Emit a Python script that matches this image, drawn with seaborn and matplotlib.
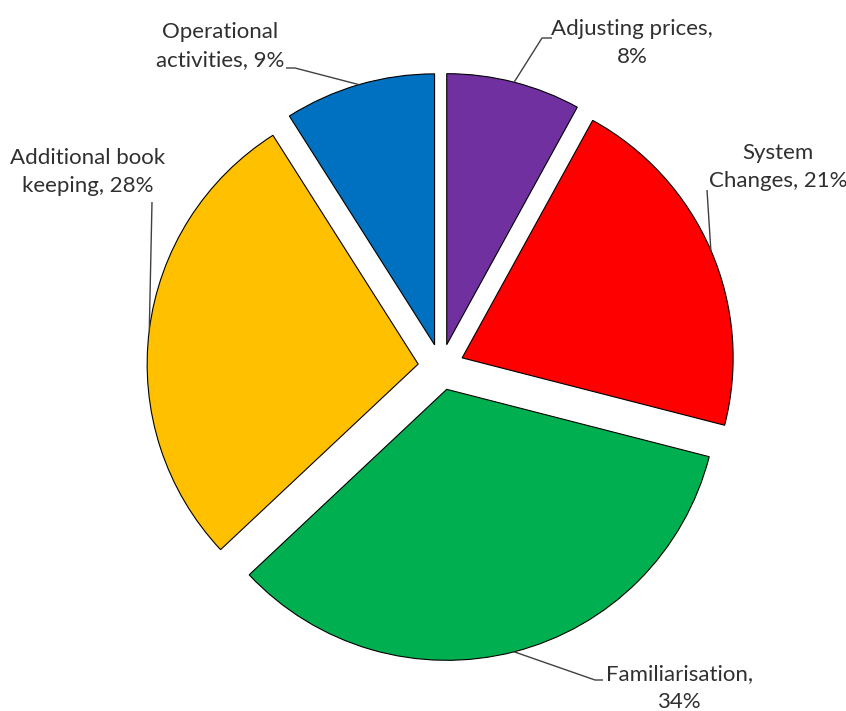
import matplotlib
matplotlib.use("Agg")
import matplotlib.pyplot as plt
import seaborn as sns
import numpy as np

# Share of one-off costs by activity (percent)
categories = ["Adjusting prices", "System Changes", "Familiarisation",
              "Additional book keeping", "Operational activities"]
shares = [8, 21, 34, 28, 9]
label_text = ["Adjusting prices,\n8%", "System\nChanges, 21%", "Familiarisation,\n34%",
              "Additional book\nkeeping, 28%", "Operational\nactivities, 9%"]
colors = ["#7030A0", "#FF0000", "#00B050", "#FFC000", "#0070C0"]

sns.set_theme(style="white")
plt.rcParams["font.family"] = ["Lato", "DejaVu Sans"]

W, H = 846, 711
R_PX = 271          # pie radius in pixels
CX, CY = 441, 367   # pie centre in pixels (from top-left)

fig = plt.figure(figsize=(W / 100, H / 100), dpi=100)
ax = fig.add_axes([0, 0, 1, 1])


def px(x, y):
    """Convert pixel position (from top-left) to data coordinates."""
    return ((x - CX) / R_PX, (CY - y) / R_PX)


wedges, _ = ax.pie(shares, colors=colors, startangle=90, counterclock=False,
                   explode=[0.085] * len(shares), radius=1,
                   wedgeprops=dict(edgecolor="black", linewidth=0.8))
ax.set_xlim(-CX / R_PX, (W - CX) / R_PX)
ax.set_ylim(-(H - CY) / R_PX, CY / R_PX)
ax.set_aspect("auto")
ax.axis("off")

# label placement: text centre and leader-line elbow points (pixels)
layout = {
    "Adjusting prices": dict(text=(632, 43), path=[(542, 38), (552, 38)]),
    "System Changes": dict(text=(778, 167), path=[(707, 190)]),
    "Familiarisation": dict(text=(679, 688), path=[(595, 680), (603, 680)]),
    "Additional book keeping": dict(text=(88, 172), path=[(152, 202)]),
    "Operational activities": dict(text=(220, 46), path=[(295, 68), (286, 68)]),
}

text_color = "#303030"
for w, cat, txt in zip(wedges, categories, label_text):
    mid = np.deg2rad((w.theta1 + w.theta2) / 2)
    ax0 = w.center[0] + w.r * np.cos(mid)
    ay0 = w.center[1] + w.r * np.sin(mid)
    spec = layout[cat]
    pts = [(ax0, ay0)] + [px(*p) for p in spec["path"]]
    xs, ys = zip(*pts)
    ax.plot(xs, ys, color="#404040", lw=1.0, solid_capstyle="butt")
    tx, ty = px(*spec["text"])
    ax.text(tx, ty, txt, ha="center", va="center", multialignment="center",
            fontsize=16, color=text_color, linespacing=1.5)

fig.savefig("out.png", dpi=100)
